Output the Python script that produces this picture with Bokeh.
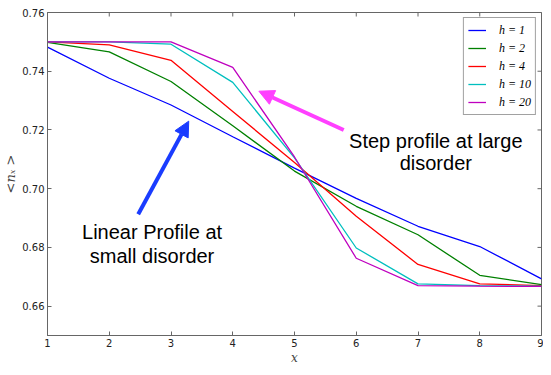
import math
from bokeh.plotting import figure
from bokeh.models import (Legend, LegendItem, Arrow, NormalHead, Label,
                          FixedTicker, Range1d)
from bokeh.embed import file_html
from bokeh.resources import INLINE

# ---- data ----
x = [1, 2, 3, 4, 5, 6, 7, 8, 9]
h1 = [0.7482, 0.7376, 0.7285, 0.7177, 0.7070, 0.6967, 0.6872, 0.6803, 0.6693]
h2 = [0.7498, 0.7466, 0.7365, 0.7214, 0.7060, 0.6940, 0.6843, 0.6705, 0.6673]
h4 = [0.7500, 0.7490, 0.7437, 0.7263, 0.7089, 0.6906, 0.6742, 0.6676, 0.6670]
h10 = [0.7500, 0.7500, 0.7492, 0.7362, 0.7105, 0.6798, 0.6676, 0.6670, 0.6668]
h20 = [0.7500, 0.7500, 0.7500, 0.7413, 0.7108, 0.6763, 0.6670, 0.6668, 0.6667]
series_names = ["h = 1", "h = 2", "h = 4", "h = 10", "h = 20"]
series_values = [h1, h2, h4, h10, h20]
series_colors = ["#0000ff", "#008000", "#ff0000", "#00bfbf", "#bf00bf"]
xticks = [1, 2, 3, 4, 5, 6, 7, 8, 9]
yticks = [0.66, 0.68, 0.70, 0.72, 0.74, 0.76]
ytick_labels = ["0.66", "0.68", "0.70", "0.72", "0.74", "0.76"]
x_min, x_max = 1, 9
y_min, y_max = 0.65, 0.76

p = figure(width=543, height=367, x_range=Range1d(x_min, x_max), y_range=Range1d(y_min, y_max),
           output_backend="svg", toolbar_location=None,
           min_border_left=44, min_border_right=2, min_border_top=12, min_border_bottom=23)
p.grid.visible = False
p.outline_line_color = "#666666"
p.background_fill_color = "white"
p.border_fill_color = "white"

axis_color = "#666666"
for ax in [p.xaxis[0], p.yaxis[0]]:
    ax.major_tick_in = 4
    ax.major_tick_out = 0
    ax.minor_tick_line_color = None
    ax.axis_line_color = axis_color
    ax.major_tick_line_color = axis_color
    ax.major_label_text_font = "DejaVu Sans"
    ax.major_label_text_font_size = "10px"
    ax.major_label_text_color = "#222222"
    ax.major_label_standoff = 3
    ax.axis_label_text_font = "DejaVu Serif"
    ax.axis_label_text_font_style = "italic"
    ax.axis_label_text_color = "#444444"
    ax.axis_label_standoff = 1
p.xaxis.axis_label_text_font_size = "12px"
p.yaxis.axis_label_text_font_size = "13px"
p.xaxis.ticker = FixedTicker(ticks=xticks)
p.yaxis.ticker = FixedTicker(ticks=yticks)
p.yaxis.major_label_overrides = {t: l for t, l in zip(yticks, ytick_labels)}
p.xaxis.axis_label = "x"
p.yaxis.axis_label = "<nₓ >"

# inward ticks on the top and right edges (half of each dash is clipped by the frame)
p.scatter(xticks, [y_max] * len(xticks), marker="dash", angle=math.pi / 2, size=8,
          line_color=axis_color, line_width=1)
p.scatter([x_max] * len(yticks), yticks, marker="dash", size=8,
          line_color=axis_color, line_width=1)

items = []
for name, vals, col in zip(series_names, series_values, series_colors):
    r = p.line(x, vals, line_color=col, line_width=1.3)
    items.append(LegendItem(label=name, renderers=[r]))

legend = Legend(items=items, location="top_right")
legend.margin = 5
legend.padding = 4
legend.spacing = 2
legend.label_height = 16
legend.glyph_height = 16
legend.glyph_width = 18
legend.label_standoff = 13
legend.label_text_font = "Liberation Serif"
legend.label_text_font_style = "italic"
legend.label_text_font_size = "12px"
legend.label_text_color = "black"
legend.border_line_color = "#444444"
legend.border_line_width = 1
legend.background_fill_alpha = 1
p.add_layout(legend)

# arrows
blue_arrow = "#1a3cff"
pink_arrow = "#ff40ff"
p.add_layout(Arrow(end=NormalHead(size=15, fill_color=blue_arrow, line_color=blue_arrow),
                   x_start=2.469, y_start=0.6913, x_end=3.287, y_end=0.7230,
                   line_color=blue_arrow, line_width=4))
p.add_layout(Arrow(end=NormalHead(size=15, fill_color=pink_arrow, line_color=pink_arrow),
                   x_start=5.797, y_start=0.7200, x_end=4.423, y_end=0.7332,
                   line_color=pink_arrow, line_width=4))

# annotation texts
for tx, ty, t in [(7.288, 0.7162, "Step profile at large"), (7.288, 0.7088, "disorder"),
                  (2.693, 0.6851, "Linear Profile at"), (2.693, 0.6772, "small disorder")]:
    p.add_layout(Label(x=tx, y=ty, text=t, text_font="Liberation Sans", text_font_size="20px",
                       text_align="center", text_baseline="alphabetic", text_color="black"))

open("out.html", "w").write(file_html(p, INLINE))
